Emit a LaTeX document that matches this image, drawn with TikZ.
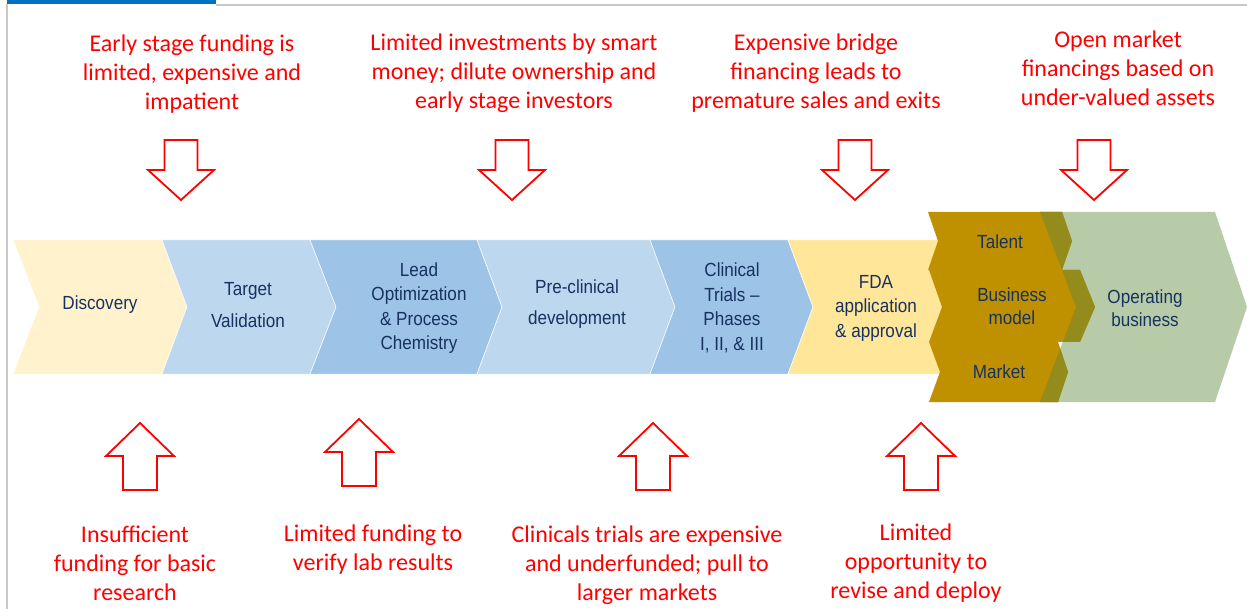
\documentclass[tikz,border=0pt]{standalone}
\usepackage{fontspec}
\setmainfont{Liberation Sans}[FakeStretch=0.9]
\newfontfamily\redfont{Carlito}
\definecolor{cream}{RGB}{255,242,204}
\definecolor{lblue}{RGB}{189,215,238}
\definecolor{mblue}{RGB}{157,195,230}
\definecolor{fdayel}{RGB}{255,230,153}
\definecolor{gold}{RGB}{191,144,0}
\definecolor{olive}{RGB}{147,139,28}
\definecolor{sage}{RGB}{183,203,168}
\definecolor{navy}{RGB}{23,50,96}
\definecolor{framegrey}{RGB}{200,200,200}
\definecolor{barblue}{RGB}{0,112,192}
\definecolor{alarm}{RGB}{255,0,0}
\tikzset{
  stagefill/.style={fill=#1, draw=white, line width=0.5pt},
  redtxt/.style={text=alarm, font=\redfont\fontsize{24}{29}\selectfont, align=center, inner sep=0pt},
  stagetxt/.style={text=navy, font=\fontsize{19}{24.5}\selectfont, align=center, inner sep=0pt},
  blockarrow/.style={draw=alarm, fill=white, line width=1.8pt, line join=miter},
  downarrow/.pic={\path[blockarrow] (-16.5,-30) -- (16.5,-30) -- (16.5,0) -- (33,0) -- (0,30) -- (-33,0) -- (-16.5,0) -- cycle;},
  uparrow/.pic={\path[blockarrow] (-17,34) -- (17,34) -- (17,0) -- (34,0) -- (0,-33) -- (-34,0) -- (-17,0) -- cycle;}
}
\begin{document}
\begin{tikzpicture}[x=1pt,y=-1pt]
\useasboundingbox (0,0) rectangle (1247,609);
% frame
\fill[barblue] (7,0) rectangle (216,4.5);
\fill[framegrey] (216,4) rectangle (1247,6);
\fill[framegrey] (6,4) rectangle (8,609);
% main chevrons
\path[stagefill=cream] (13,240) -- (162,240) -- (187,307) -- (162,374) -- (13,374) -- (39,307) -- cycle;
\path[stagefill=lblue] (162,240) -- (310,240) -- (336,307) -- (310,374) -- (162,374) -- (187,307) -- cycle;
\path[stagefill=mblue] (310,240) -- (477,240) -- (502,307) -- (477,374) -- (310,374) -- (336,307) -- cycle;
\path[stagefill=lblue] (477,240) -- (650,240) -- (675,307) -- (650,374) -- (477,374) -- (502,307) -- cycle;
\path[stagefill=mblue] (650,240) -- (788,240) -- (813,307) -- (788,374) -- (650,374) -- (675,307) -- cycle;
\path[stagefill=fdayel] (788,240) -- (950,240) -- (975,307) -- (950,374) -- (788,374) -- (813,307) -- cycle;
% operating business chevron
\path[fill=sage] (1040,212) -- (1215,212) -- (1247,307) -- (1215,402) -- (1040,402) -- (1076,307) -- cycle;
% gold chevrons
\def\talentpath{(928,212) -- (1062,212) -- (1072,241) -- (1062,270) -- (928,270) -- (938,241) -- cycle}
\def\bizpath{(929,270) -- (1080,270) -- (1095,307) -- (1080,342) -- (929,342) -- (942,307) -- cycle}
\def\marketpath{(929,342) -- (1058,342) -- (1068,372) -- (1058,402) -- (929,402) -- (940,372) -- cycle}
\fill[gold] \talentpath;
\fill[gold] \bizpath;
\fill[gold] \marketpath;
\begin{scope}
  \clip (1040,212) -- (1215,212) -- (1247,307) -- (1215,402) -- (1040,402) -- (1076,307) -- cycle;
  \fill[olive] \talentpath;
  \fill[olive] \bizpath;
  \fill[olive] \marketpath;
\end{scope}
% stage texts
\node[stagetxt] (discovery) at (100,305) {Discovery};
\node[stagetxt, font=\fontsize{19}{32}\selectfont] (target) at (248,305) {Target\\Validation};
\node[stagetxt] (lead) at (419,308) {Lead\\Optimization\\\& Process\\Chemistry};
\node[stagetxt, font=\fontsize{19}{31}\selectfont] (preclin) at (577,304) {Pre-clinical\\development};
\node[stagetxt] (clinical) at (732,308) {Clinical\\Trials –\\Phases\\I, II, \& III};
\node[stagetxt] (fda) at (876,308) {FDA\\application\\\& approval};
\node[stagetxt] (talent) at (1000,242) {Talent};
\node[stagetxt, font=\fontsize{19}{23.5}\selectfont] (bizmodel) at (1012,306) {Business\\model};
\node[stagetxt] (market) at (999,372) {Market};
\node[stagetxt, font=\fontsize{19}{23.5}\selectfont] (operating) at (1145,308) {Operating\\business};
% top problems
\node[redtxt] (p1) at (192,74) {Early stage funding is\\limited, expensive and\\impatient};
\node[redtxt] (p2) at (514,73) {Limited investments by smart\\money; dilute ownership and\\early stage investors};
\node[redtxt] (p3) at (816,73) {Expensive bridge\\financing leads to\\premature sales and exits};
\node[redtxt] (p4) at (1118,68) {Open market\\financings based on\\under-valued assets};
% bottom problems
\node[redtxt] (q1) at (135,563) {Insufficient\\funding for basic\\research};
\node[redtxt] (q2) at (373,550) {Limited funding to\\verify lab results};
\node[redtxt] (q3) at (647,565) {Clinicals trials are expensive\\and underfunded; pull to\\larger markets};
\node[redtxt] (q4) at (916,563) {Limited\\opportunity to\\revise and deploy};
% block arrows
\pic at (181,170) {downarrow};
\pic at (512,170) {downarrow};
\pic at (855,170) {downarrow};
\pic at (1094,170) {downarrow};
\pic at (140,456) {uparrow};
\pic at (359,452) {uparrow};
\pic at (653,456) {uparrow};
\pic at (921,456) {uparrow};
\end{tikzpicture}
\end{document}
